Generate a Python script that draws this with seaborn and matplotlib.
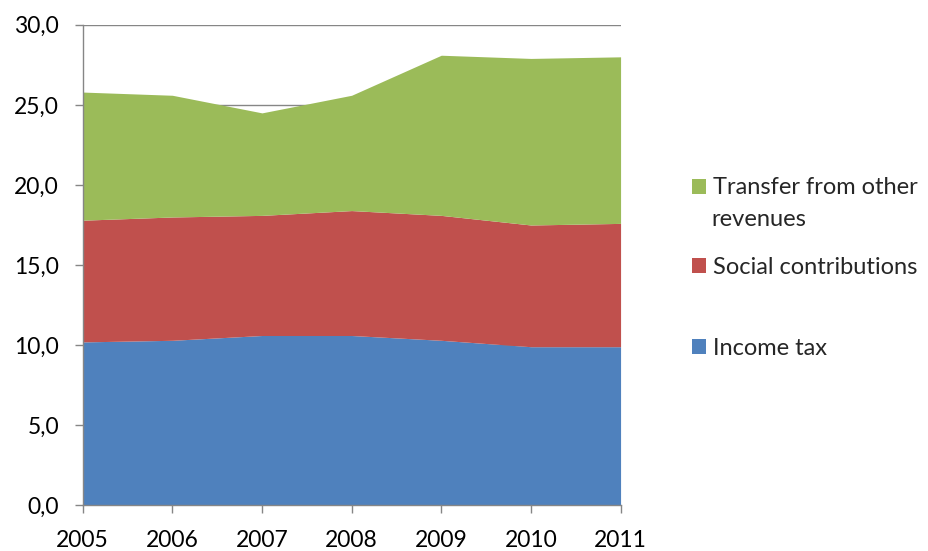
import matplotlib
matplotlib.use("Agg")
import matplotlib.pyplot as plt
import seaborn as sns
from matplotlib.ticker import FuncFormatter, MultipleLocator

years = [2005, 2006, 2007, 2008, 2009, 2010, 2011]
income_tax = [10.2, 10.3, 10.6, 10.6, 10.3, 9.9, 9.9]
social_contributions = [7.6, 7.7, 7.5, 7.8, 7.8, 7.6, 7.7]
transfer_other = [8.0, 7.6, 6.4, 7.2, 10.0, 10.4, 10.4]

labels = ["Income tax", "Social contributions", "Transfer from other"]
colors = ["#4F81BD", "#C0504D", "#9BBB59"]

sns.set_style("white")
plt.rcParams['font.family'] = ['Lato', 'DejaVu Sans']

fig = plt.figure(figsize=(9.29, 5.51), dpi=100)
ax = fig.add_axes([0.089, 0.083, 0.579, 0.872])

polys = ax.stackplot(years, income_tax, social_contributions, transfer_other,
                     colors=colors, labels=labels, linewidth=0, zorder=2)

ax.set_xlim(2005, 2011)
ax.set_ylim(0, 30)
ax.set_xticks(years)
ax.yaxis.set_major_locator(MultipleLocator(5))
ax.yaxis.set_major_formatter(FuncFormatter(lambda v, p: f"{v:.1f}".replace(".", ",")))
ax.grid(axis="y", color="#868686", linewidth=1, zorder=0)
ax.set_axisbelow(True)

for side in ["top", "right"]:
    ax.spines[side].set_visible(False)
for side in ["left", "bottom"]:
    ax.spines[side].set_color("#868686")
    ax.spines[side].set_linewidth(1)

ax.tick_params(axis="both", which="both", direction="out", length=6, width=1,
               color="#868686", labelsize=16.5, labelcolor="black",
               left=True, bottom=True)
ax.tick_params(axis="x", pad=12)
ax.tick_params(axis="y", pad=11)

# one legend per entry so the spacing follows the reference
handles, labs = ax.get_legend_handles_labels()
legend_y = {"Transfer from other": 0.659, "Social contributions": 0.514, "Income tax": 0.368}
for h, lab in zip(handles, labs):
    leg = fig.legend([h], [lab], loc="center left",
                     bbox_to_anchor=(0.745, legend_y[lab]), frameon=False,
                     fontsize=17, handlelength=0.6, handleheight=0.6,
                     handletextpad=0.3, borderpad=0, borderaxespad=0)
fig.text(0.766, 0.601, "revenues", fontsize=17, va="center", ha="left")

fig.savefig("out.png", dpi=100)
